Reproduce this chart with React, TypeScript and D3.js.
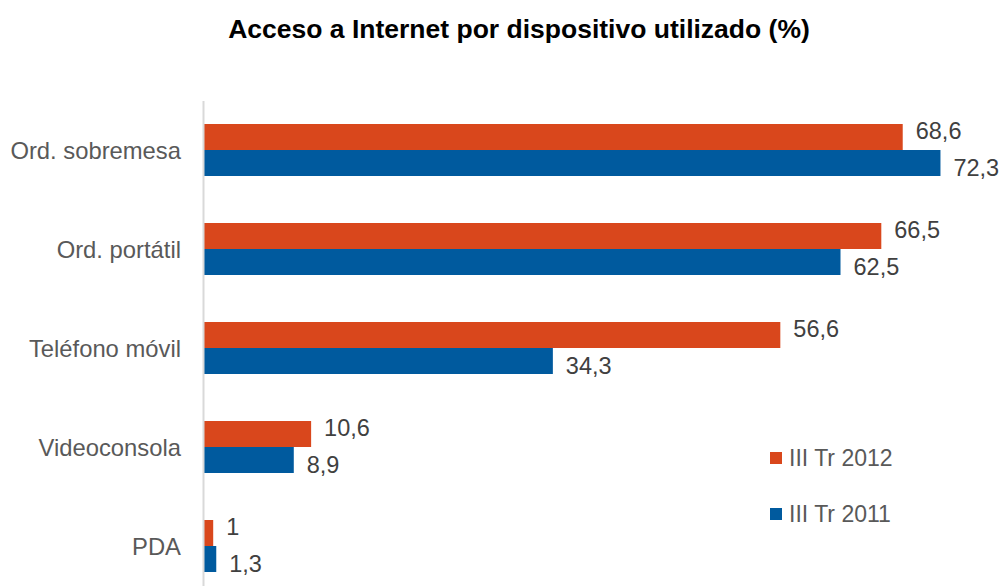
import React from "react";
import * as d3 from "d3";

const title = "Acceso a Internet por dispositivo utilizado (%)";
const categories = ["Ord. sobremesa", "Ord. portátil", "Teléfono móvil", "Videoconsola", "PDA"];
const series2012 = [68.6, 66.5, 56.6, 10.6, 1];
const series2011 = [72.3, 62.5, 34.3, 8.9, 1.3];
const seriesNames = ["III Tr 2012", "III Tr 2011"];
const seriesColors = ["#D9471C", "#005A9E"];

const W = 1003;
const H = 586;
const FONT = "'Liberation Sans', Arial, Helvetica, sans-serif";

const fmt = (v: number) => String(v).replace(".", ",");

export default function App() {
  const x = d3.scaleLinear().domain([0, 80]).range([203, 203 + 80 * 10.2]);
  const y = d3.scaleBand<string>().domain(categories).range([100.5, 595.5]).padding(0);
  const barH = 26;
  const series = [series2012, series2011];

  return (
    <svg width={W} height={H} style={{ position: "absolute", left: 0, top: 0, background: "#fff" }} fontFamily={FONT}>
      <text x={519} y={38} textAnchor="middle" fontSize={26.5} fontWeight="bold" fill="#000">
        {title}
      </text>
      {categories.map((c, i) => {
        const cy = (y(c) as number) + y.bandwidth() / 2;
        return (
          <g key={c}>
            <text x={181} y={cy} textAnchor="end" dominantBaseline="central" fontSize={23.8} fill="#595959">
              {c}
            </text>
            {series.map((s, k) => {
              const top = cy - barH + k * barH;
              return (
                <g key={k}>
                  <rect x={x(0)} y={top} width={x(s[i]) - x(0)} height={barH} fill={seriesColors[k]} />
                  <text
                    x={x(s[i]) + 13}
                    y={cy + (k === 0 ? -13 - 6 : 13 + 5)}
                    dominantBaseline="central"
                    fontSize={23.5}
                    fill="#404040"
                  >
                    {fmt(s[i])}
                  </text>
                </g>
              );
            })}
          </g>
        );
      })}
      <line x1={203.5} x2={203.5} y1={101} y2={H} stroke="#D9D9D9" strokeWidth={2} />
      {seriesNames.map((n, k) => (
        <g key={n} transform={`translate(770, ${452 + k * 56})`}>
          <rect x={0} y={0} width={12} height={12} fill={seriesColors[k]} />
          <text x={19} y={6} dominantBaseline="central" fontSize={23} fill="#595959">
            {n}
          </text>
        </g>
      ))}
    </svg>
  );
}
